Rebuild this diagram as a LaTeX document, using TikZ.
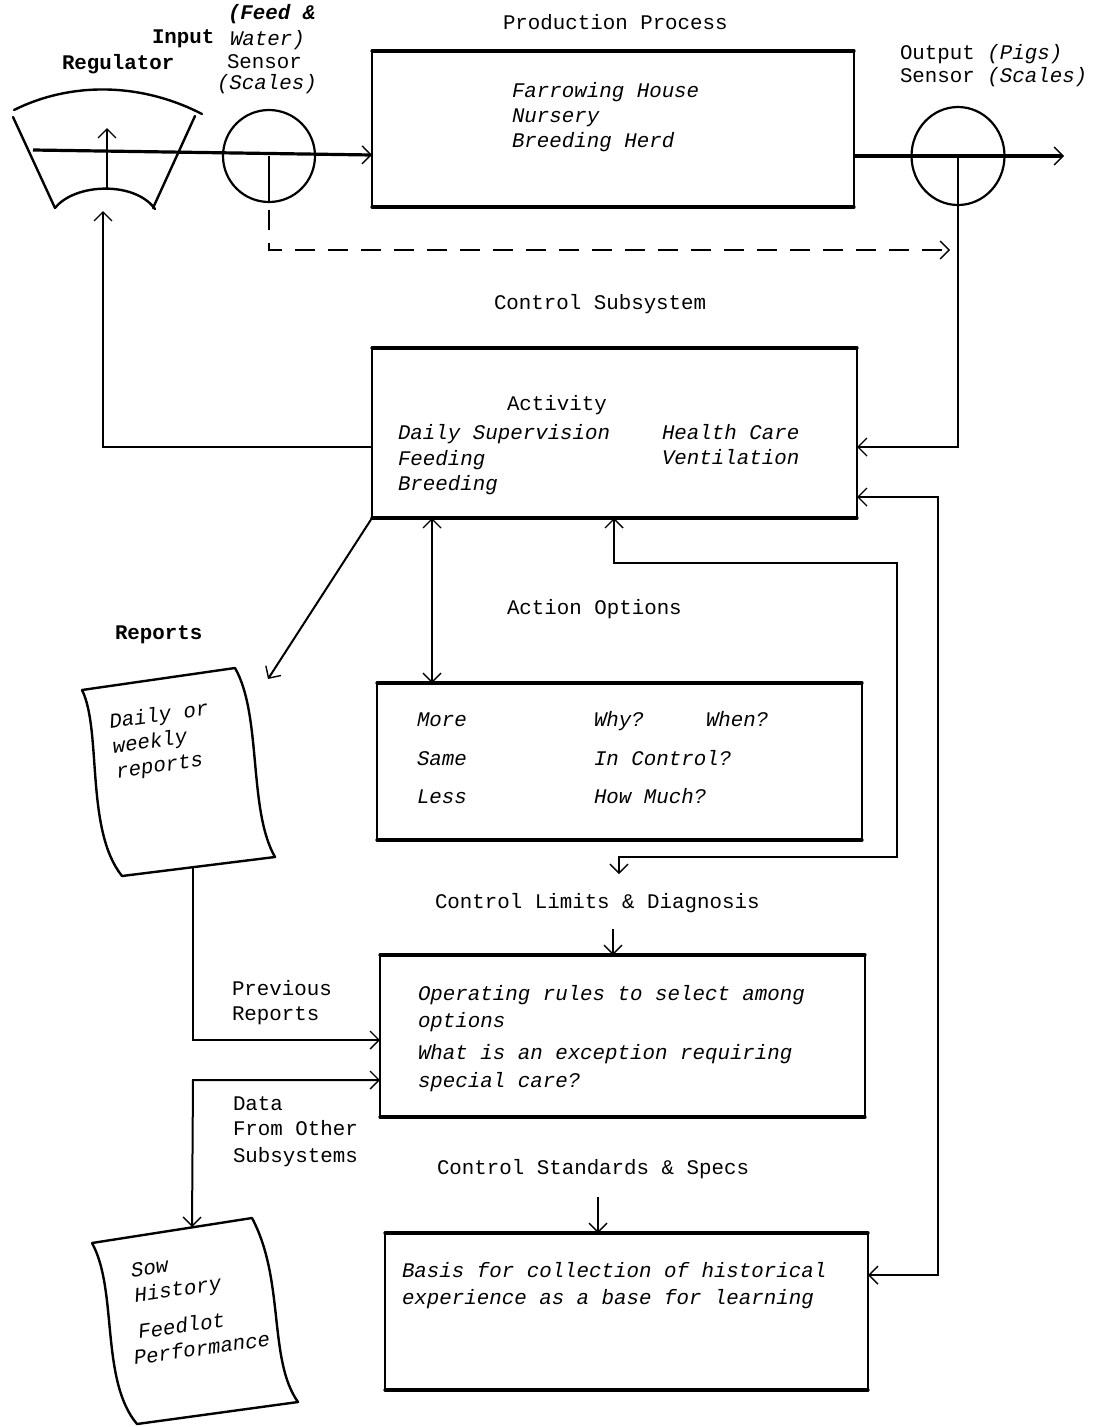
\documentclass[tikz,border=0pt]{standalone}
\usepackage{fontspec}
\setmainfont{Liberation Mono}
\usetikzlibrary{arrows.meta,shapes.geometric,calc}

% four edges of a box: heavy horizontals, light verticals
\newcommand\edgebox[1]{%
  \draw[hedge] (#1.north west) -- (#1.north east);
  \draw[hedge] (#1.south west) -- (#1.south east);
  \draw[vedge] (#1.north west) -- (#1.south west);
  \draw[vedge] (#1.north east) -- (#1.south east);}

\begin{document}
\begin{tikzpicture}[x=1pt,y=-1pt,
  every node/.style={font=\fontsize{20.8}{25}\selectfont, inner sep=0pt, outer sep=0pt},
  lbl/.style={anchor=mid west},
  itl/.style={anchor=mid west, font=\fontsize{20.8}{25}\selectfont\itshape},
  doctext/.style={anchor=west, rotate=8, align=left,
    font=\fontsize{20.8}{25}\selectfont\itshape},
  boxnode/.style={rectangle, inner sep=0pt, outer sep=0pt},
  hedge/.style={line width=3.2pt, line cap=round},
  vedge/.style={line width=1.4pt},
  conn/.style={line width=2pt},
  flow/.style={line width=3.2pt},
  dashline/.style={line width=2.8pt, dash pattern=on 20pt off 13pt, dash phase=25pt},
  doc/.style={line width=2.4pt, line join=round, line cap=round},
  >={Straight Barb[length=9pt,width=18pt,line width=1.4pt]}
]
\fill[white] (0,0) rectangle (1094,1427);
\useasboundingbox (0,0) rectangle (1094,1427);

% ---------- boxes ----------
\node[boxnode, minimum width=482pt, minimum height=156pt] (prod) at (613,129) {};
\node[boxnode, minimum width=485pt, minimum height=170pt] (act)  at (614.5,433) {};
\node[boxnode, minimum width=485pt, minimum height=157pt] (opts) at (619.5,761.5) {};
\node[boxnode, minimum width=485pt, minimum height=162pt] (lim)  at (622.5,1036) {};
\node[boxnode, minimum width=483pt, minimum height=157pt] (std)  at (626.5,1311.5) {};
\edgebox{prod}
\edgebox{act}
\edgebox{opts}
\edgebox{lim}
\edgebox{std}

% ---------- sensors ----------
\node[circle, draw, line width=2.2pt, minimum size=92pt] (insens) at (269,156) {};
\node[ellipse, draw, line width=2.2pt, minimum width=93pt, minimum height=98pt] (outsens) at (958,156) {};

% ---------- input regulator (fan shaped valve) ----------
\coordinate (reg) at (107,160);
\draw[doc] (14,110) .. controls (70,82) and (140,82) .. (202,114);
\draw[doc] (13,117) -- (55,208);
\draw[doc] (195,116) -- (153,208);
\draw[doc] (55,208) .. controls (75,183) and (135,181) .. (155,209);
\coordinate (regmid) at (107,188);
\coordinate (regtop) at (107,128);
\draw[conn,->] (regmid) -- (regtop);
\coordinate (regin) at (33,150);
\coordinate (regbot) at (103,211);

% ---------- report sheets ----------
\draw[doc] (82,690) -- (235,668)
  .. controls (262,715) and (248,810) .. (275,857)
  -- (122,876)
  .. controls (85,830) and (102,730) .. (82,690);
\coordinate (repdoc) at (193,867);
\coordinate (repin) at (268,679);

\draw[doc] (92,1243) -- (252,1218)
  .. controls (285,1280) and (268,1360) .. (298,1402)
  -- (137,1424)
  .. controls (100,1380) and (118,1290) .. (92,1243);
\coordinate (sowtop) at (192,1227);

% ---------- labels ----------
\node[lbl] (feedlbl) at (228,17) {\textbf{\textit{(Feed \&}}};
\node[lbl] (inputlbl) at (152,41) {\textbf{Input}};
\node[itl] (waterlbl) at (230,43) {Water)};
\node[lbl] (reglbl) at (62,67) {\textbf{Regulator}};
\node[lbl] (insenslbl) at (227,66) {Sensor};
\node[itl] (inscaleslbl) at (217,87) {(Scales)};
\node[lbl] (prodlbl) at (503,27) {Production Process};
\node[lbl] (outlbl) at (900,57) {Output \textit{(Pigs)}};
\node[lbl] (outsenslbl) at (900,80) {Sensor \textit{(Scales)}};

\node[itl] (p1) at (512,95) {Farrowing House};
\node[itl] (p2) at (512,120) {Nursery};
\node[itl] (p3) at (512,145) {Breeding Herd};

\node[lbl] (ctrllbl) at (494,307) {Control Subsystem};
\node[lbl] (actlbl) at (507,408) {Activity};
\node[itl] (a1) at (398,437) {Daily Supervision};
\node[itl] (a2) at (398,463) {Feeding};
\node[itl] (a3) at (398,488) {Breeding};
\node[itl] (a4) at (662,437) {Health Care};
\node[itl] (a5) at (662,462) {Ventilation};

\node[lbl] (optlbl) at (507,612) {Action Options};
\node[lbl] (replbl) at (115,637) {\textbf{Reports}};
\node[itl] (o1) at (417,724) {More};
\node[itl] (o2) at (417,763) {Same};
\node[itl] (o3) at (417,801) {Less};
\node[itl] (o4) at (594,724) {Why?};
\node[itl] (o5) at (706,724) {When?};
\node[itl] (o6) at (594,763) {In Control?};
\node[itl] (o7) at (594,801) {How Much?};

\node[doctext] (repnote) at (113,748) {Daily or\\weekly\\reports};

\node[lbl] (limlbl) at (435,906) {Control Limits \& Diagnosis};
\node[lbl] (prevlbl) at (232,993) {Previous};
\node[lbl] (prevlbl2) at (232,1018) {Reports};
\node[lbl] (datalbl) at (233,1108) {Data};
\node[lbl] (datalbl2) at (233,1133) {From Other};
\node[lbl] (datalbl3) at (233,1160) {Subsystems};
\node[itl] (l1) at (418,998) {Operating rules to select among};
\node[itl] (l2) at (418,1025) {options};
\node[itl] (l3) at (418,1057) {What is an exception requiring};
\node[itl] (l4) at (418,1085) {special care?};

\node[lbl] (stdlbl) at (437,1172) {Control Standards \& Specs};
\node[itl] (s1) at (402,1275) {Basis for collection of historical};
\node[itl] (s2) at (402,1302) {experience as a base for learning};

\node[doctext] (sownote) at (133,1285) {Sow\\History};
\node[doctext] (feednote) at (132,1345) {\hspace{8pt}Feedlot\\Performance};

% ---------- material flow ----------
\coordinate (outend) at (1064,156);
\draw[flow,->] (regin) -- (prod.west |- 0,155);
\draw[flow,->] (prod.east |- 0,156) -- (outend);

% ---------- sensor taps and feedback ----------
\coordinate (dashc) at (272,250);
\coordinate (dashend) at (950,250);
\draw[conn] (insens.center) -- (insens.south);
\draw[dashline,->] (insens.south) -- (insens.south |- dashc) -- (dashend);
\draw[conn,->] (outsens.center) -- (outsens.center |- 0,447) -- (act.east |- 0,447);
\draw[conn,->] (act.west |- 0,447) -| (regbot);

% ---------- control subsystem links ----------
\coordinate (limarr) at (619,874);
\coordinate (limsrc) at (613,929);
\coordinate (stdsrc) at (598,1197);
\draw[conn,->] (act.south west) -- (repin);
\draw[conn,<->] (act.south -| 432,0) -- (opts.north -| 432,0);
\draw[conn,<->] (act.south -| 614,0) -- (614,563) -- (897,563) -- (897,857) -- (619,857) -- (limarr);
\draw[conn,<->] (act.east |- 0,497) -- (938,497) -- (938,1275) -- (std.east |- 0,1275);
\draw[conn,->] (limsrc) -- (lim.north -| limsrc);
\draw[conn,->] (stdsrc) -- (std.north -| stdsrc);
\draw[conn,->] (repdoc) -- (193,1040) -- (lim.west |- 0,1040);
\draw[conn,<->] (lim.west |- 0,1080) -- (193,1080) -- (sowtop);
\end{tikzpicture}
\end{document}
